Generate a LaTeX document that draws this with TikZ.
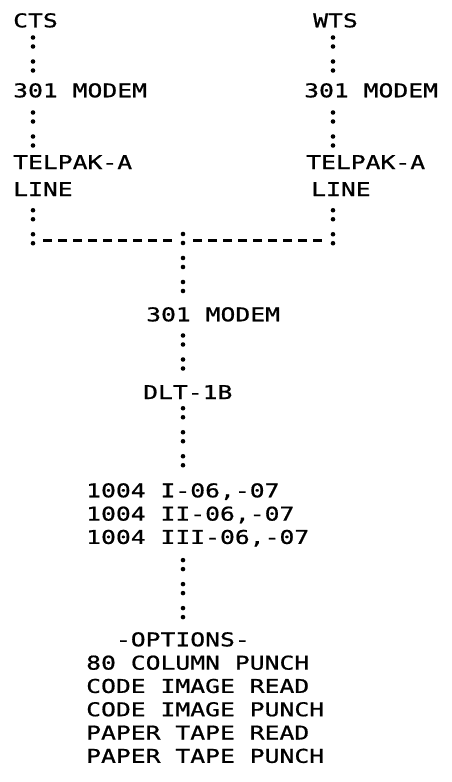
\documentclass[tikz,border=0pt]{standalone}
\usepackage{fontspec}
\newfontfamily\prt[FakeStretch=1.3, FakeBold=0.8]{DejaVu Sans Mono}
\begin{document}
\begin{tikzpicture}[
    x=1pt, y=-1pt,
    lbl/.style={anchor=north west, inner sep=0pt, text depth=0pt, align=left,
      font=\prt\fontsize{19}{23.3}\selectfont},
    colon/.style={line width=4.6pt, line cap=round,
      dash pattern=on 0pt off 9pt on 0pt off 15pt},
    hline/.style={line width=3pt, dash pattern=on 9pt off 6pt},
  ]
  \useasboundingbox (0,0) rectangle (451,782);

  % junction row
  \coordinate (jl) at (33,240);
  \coordinate (jc) at (183,240);
  \coordinate (jr) at (333,240);

  % Left branch: CTS
  \node[lbl] (cts)  at (13, 13) {CTS};
  \node[lbl] (lmod) at (13, 83) {301 MODEM};
  \node[lbl] (ltel) at (13,155) {TELPAK-A};
  \node[lbl] (llin) at (13,182) {LINE};
  \draw[colon, shorten <=10pt, shorten >=8pt] (cts.south -| jl) -- (lmod.north -| jl);
  \draw[colon, shorten <=15pt, shorten >=4pt] (lmod.south -| jl) -- (ltel.north -| jl);
  \draw[colon, shorten <=14pt] (llin.south -| jl) -- ([yshift=-5pt]jl);

  % Right branch: WTS
  \node[lbl] (wts)  at (313, 13) {WTS};
  \node[lbl] (rmod) at (304, 83) {301 MODEM};
  \node[lbl] (rtel) at (306,155) {TELPAK-A};
  \node[lbl] (rlin) at (311,182) {LINE};
  \draw[colon, shorten <=10pt, shorten >=8pt] (wts.south -| jr) -- (rmod.north -| jr);
  \draw[colon, shorten <=15pt, shorten >=4pt] (rmod.south -| jr) -- (rtel.north -| jr);
  \draw[colon, shorten <=14pt] (rlin.south -| jr) -- ([yshift=-5pt]jr);

  % Tie line
  \draw[hline, shorten <=10pt, shorten >=8pt] (jl) -- (jc);
  \draw[hline, shorten <=10pt, shorten >=8pt] (jc) -- (jr);

  % Trunk down to the terminals
  \node[lbl] (cmod) at (146,307) {301 MODEM};
  \node[lbl] (dlt)  at (143,385) {DLT-1B};
  \node[lbl] (devs) at (86,483)  {1004 I-06,-07\\1004 II-06,-07\\1004 III-06,-07};
  \node[lbl] (opts) at (86,632)  {\phantom{80}-OPTIONS-\\80 COLUMN PUNCH\\CODE IMAGE READ\\%
    CODE IMAGE PUNCH\\PAPER TAPE READ\\PAPER TAPE PUNCH};
  \draw[colon, shorten >=9pt] ([yshift=6pt]jc) -- (cmod.north -| jc);
  \draw[colon, shorten <=14pt, shorten >=8pt] (cmod.south -| jc) -- (dlt.north -| jc);
  \draw[colon, shorten <=9pt, shorten >=8pt] (dlt.south -| jc) -- (devs.north -| jc);
  \draw[colon, shorten <=16pt, shorten >=6pt] (devs.south -| jc) -- (opts.north -| jc);
\end{tikzpicture}
\end{document}
